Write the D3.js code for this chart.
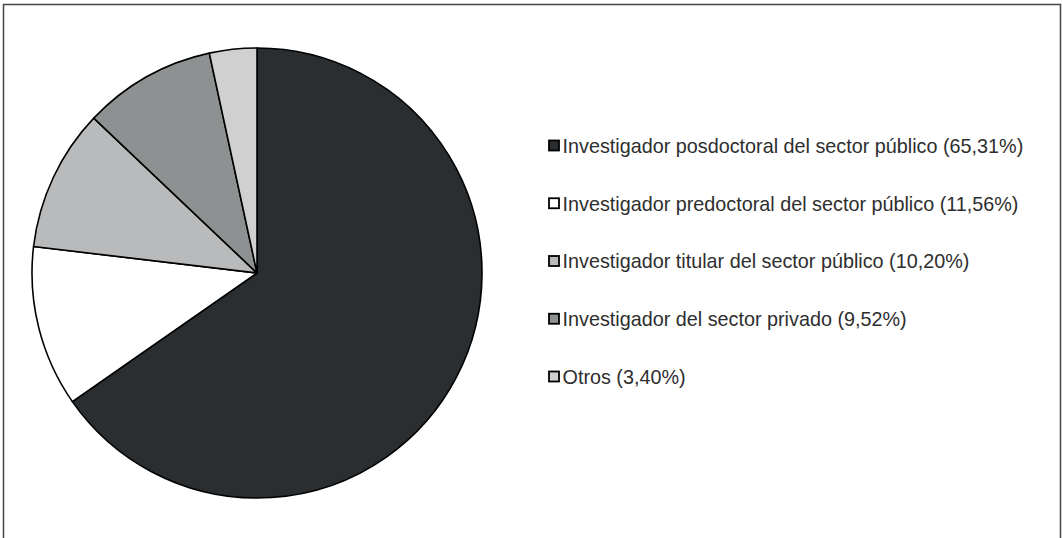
<!DOCTYPE html>
<html>
<head>
<meta charset="utf-8">
<script src="https://cdn.jsdelivr.net/npm/d3@7"></script>
<style>
  body { margin: 0; background: #fff; }
  svg { display: block; }
</style>
</head>
<body>
<svg id="chart"></svg>
<script>
var labels = ["Investigador posdoctoral del sector público (65,31%)",
              "Investigador predoctoral del sector público (11,56%)",
              "Investigador titular del sector público (10,20%)",
              "Investigador del sector privado (9,52%)",
              "Otros (3,40%)"]
var values = [65.31, 11.56, 10.20, 9.52, 3.40]
var colors = ["#2b2e30", "#ffffff", "#b9babb", "#8e9191", "#cfd0cf"]

var dim = { width: 1062, height: 538 }
var center = { x: 257, y: 273 }
var radius = 225

var svg = d3.select("#chart")
    .attr("width", dim.width)
    .attr("height", dim.height)

// outer frame (bottom edge runs off the picture)
svg.append("path")
    .attr("d", "M3.5,540 V4.5 H1060.5 V540")
    .attr("fill", "none")
    .attr("stroke", "#444")
    .attr("stroke-width", 1.5)

var pie = d3.pie().sort(null).value(d => d)
var arc = d3.arc().innerRadius(0).outerRadius(radius)

var colorScale = d3.scaleOrdinal()
    .domain(d3.range(values.length))
    .range(colors)

svg.append("g")
    .attr("transform", "translate(" + center.x + "," + center.y + ")")
    .selectAll("path")
    .data(pie(values)).enter()
    .append("path")
    .attr("d", arc)
    .attr("fill", (d, i) => colorScale(i))
    .attr("stroke", "#000")
    .attr("stroke-width", 1.6)
    .attr("stroke-linejoin", "round")

var legendY = d3.scalePoint()
    .domain(d3.range(labels.length))
    .range([146, 377])

var legend = svg.append("g")
    .selectAll("g")
    .data(labels).enter()
    .append("g")
    .attr("transform", (d, i) => "translate(549," + legendY(i) + ")")

legend.append("rect")
    .attr("x", 0)
    .attr("y", -5.5)
    .attr("width", 10)
    .attr("height", 10)
    .attr("fill", (d, i) => colorScale(i))
    .attr("stroke", "#000")
    .attr("stroke-width", 1.8)

legend.append("text")
    .attr("x", 13.5)
    .attr("y", 0)
    .attr("dy", "0.35em")
    .attr("font-family", "Liberation Sans, Arial, sans-serif")
    .attr("font-size", 19.8)
    .attr("fill", "#2e2e2e")
    .text(d => d)
</script>
</body>
</html>
